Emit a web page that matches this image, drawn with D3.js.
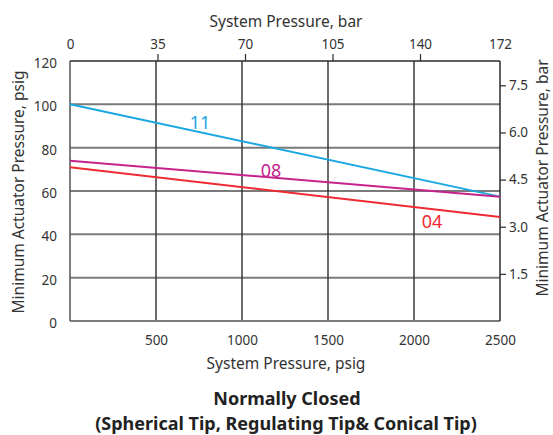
<!DOCTYPE html>
<html>
<head>
<meta charset="utf-8">
<script src="https://cdn.jsdelivr.net/npm/d3@7"></script>
<style>
  html, body { margin: 0; padding: 0; background: #fff; }
  svg { display: block; font-family: "Noto Sans", "Open Sans", sans-serif; }
</style>
</head>
<body>
<svg id="chart" width="553" height="435"></svg>
<script>
// System pressure (psig) sample points and minimum actuator pressure per size
const systemPsig = [0, 2500];
const series11 = [100, 57.4];
const series08 = [74, 57.4];
const series04 = [71, 48];
const seriesNames = ["11", "08", "04"];
const seriesColors = ["#1aa8e2", "#c4238c", "#ee2a33"];

const psigTicks = [500, 1000, 1500, 2000, 2500];
const psigYTicks = [0, 20, 40, 60, 80, 100, 120];
const barTopTicks = [0, 35, 70, 105, 140, 172];
const barRightTicks = [1.5, 3.0, 4.5, 6.0, 7.5];

(function draw() {
  const svg = d3.select("#chart");
  const plotL = 70, plotR = 500, plotT = 61, plotB = 321;

  const x = d3.scaleLinear().domain([0, 2500]).range([plotL, plotR]);
  const xBar = d3.scaleLinear().domain([0, 172]).range([plotL, plotR]);
  const y = d3.scaleLinear().domain([0, 120]).range([plotB, plotT]);
  const yBar = d3.scaleLinear().domain([0, 120 / 14.5038]).range([plotB, plotT]);

  const textColor = "#333";
  const tickFont = 13.5;

  // horizontal grid
  svg.append("g").selectAll("line")
    .data(psigYTicks.filter(d => d > 0 && d < 120))
    .join("line")
    .attr("x1", plotL).attr("x2", plotR)
    .attr("y1", d => y(d)).attr("y2", d => y(d))
    .attr("stroke", "#7a7a7a").attr("stroke-width", 2);

  // vertical grid
  svg.append("g").selectAll("line")
    .data(psigTicks.filter(d => d < 2500))
    .join("line")
    .attr("x1", d => x(d)).attr("x2", d => x(d))
    .attr("y1", plotT).attr("y2", plotB)
    .attr("stroke", "#3a3a3a").attr("stroke-width", 1.5);

  // frame
  svg.append("line").attr("x1", plotL).attr("x2", plotR).attr("y1", plotB).attr("y2", plotB)
    .attr("stroke", "#7a7a7a").attr("stroke-width", 2);
  svg.append("line").attr("x1", plotL).attr("x2", plotR).attr("y1", plotT).attr("y2", plotT)
    .attr("stroke", "#2a2a2a").attr("stroke-width", 1.5);
  svg.append("line").attr("x1", plotL).attr("x2", plotL).attr("y1", plotT).attr("y2", plotB)
    .attr("stroke", "#555").attr("stroke-width", 1.5);
  svg.append("line").attr("x1", plotR).attr("x2", plotR).attr("y1", plotT).attr("y2", plotB)
    .attr("stroke", "#2a2a2a").attr("stroke-width", 1.5);

  // bottom axis labels (psig)
  const xAxis = d3.axisBottom(x).tickValues(psigTicks).tickSize(0).tickPadding(14)
    .tickFormat(d3.format("d"));
  const gx = svg.append("g").attr("transform", `translate(0,${plotB})`).call(xAxis);
  gx.select(".domain").remove();
  gx.selectAll("text").attr("font-size", tickFont).attr("fill", textColor).attr("font-family", "Noto Sans");

  // left axis labels (psig)
  const yAxis = d3.axisLeft(y).tickValues(psigYTicks).tickSize(0).tickPadding(13);
  const gy = svg.append("g").attr("transform", `translate(${plotL},0)`).call(yAxis);
  gy.select(".domain").remove();
  gy.selectAll("text").attr("font-size", tickFont).attr("fill", textColor)
    .attr("font-family", "Noto Sans").attr("dy", "0.48em");

  // top axis (bar)
  const xTop = d3.axisTop(xBar).tickValues(barTopTicks).tickSize(7).tickPadding(5)
    .tickFormat(d3.format("d"));
  const gt = svg.append("g").attr("transform", `translate(0,${plotT})`).call(xTop);
  gt.select(".domain").remove();
  gt.selectAll(".tick line").attr("stroke", "#2a2a2a").attr("stroke-width", 1.2)
    .filter(d => d === 0 || d === 172).remove();
  gt.selectAll("text").attr("font-size", tickFont).attr("fill", textColor).attr("font-family", "Noto Sans");

  // right axis (bar)
  const yRight = d3.axisRight(yBar).tickValues(barRightTicks).tickSize(6).tickPadding(3)
    .tickFormat(d3.format(".1f"));
  const gr = svg.append("g").attr("transform", `translate(${plotR},0)`).call(yRight);
  gr.select(".domain").remove();
  gr.selectAll(".tick line").attr("stroke", "#2a2a2a").attr("stroke-width", 1.2);
  gr.selectAll("text").attr("font-size", tickFont).attr("fill", textColor).attr("font-family", "Noto Sans");

  // series lines
  const allSeries = [series11, series08, series04];
  const line = d3.line().x((d, i) => x(systemPsig[i])).y(d => y(d));
  svg.append("g").selectAll("path")
    .data(allSeries)
    .join("path")
    .attr("d", d => line(d))
    .attr("fill", "none")
    .attr("stroke", (d, i) => seriesColors[i])
    .attr("stroke-width", 2);

  // series labels placed along their lines
  const labelAt = [
    { psig: 756, level: 88.4 },
    { psig: 1169, level: 66.6 },
    { psig: 2105, level: 42.9 }
  ];
  svg.append("g").selectAll("text")
    .data(seriesNames)
    .join("text")
    .attr("x", (d, i) => x(labelAt[i].psig))
    .attr("y", (d, i) => y(labelAt[i].level))
    .attr("text-anchor", "middle")
    .attr("font-size", 18)
    .attr("fill", (d, i) => seriesColors[i])
    .text(d => d);

  // axis titles
  const titleFont = 15.5;
  svg.append("text").attr("x", 286).attr("y", 27).attr("text-anchor", "middle")
    .attr("font-size", titleFont).attr("fill", textColor).text("System Pressure, bar");
  svg.append("text").attr("x", 286).attr("y", 369).attr("text-anchor", "middle")
    .attr("font-size", titleFont).attr("fill", textColor).text("System Pressure, psig");
  svg.append("text").attr("transform", "translate(24,192) rotate(-90)").attr("text-anchor", "middle")
    .attr("font-size", titleFont).attr("fill", textColor).text("Minimum Actuator Pressure, psig");
  svg.append("text").attr("transform", "translate(548,178) rotate(-90)").attr("text-anchor", "middle")
    .attr("font-size", titleFont).attr("fill", textColor).text("Minimum Actuator Pressure, bar");

  // chart title
  svg.append("text").attr("x", 287).attr("y", 405).attr("text-anchor", "middle")
    .attr("font-size", 18).attr("font-weight", "bold").attr("fill", "#222").text("Normally Closed");
  svg.append("text").attr("x", 286).attr("y", 430).attr("text-anchor", "middle")
    .attr("font-size", 18).attr("font-weight", "bold").attr("fill", "#222")
    .text("(Spherical Tip, Regulating Tip& Conical Tip)");
})();
</script>
</body>
</html>
